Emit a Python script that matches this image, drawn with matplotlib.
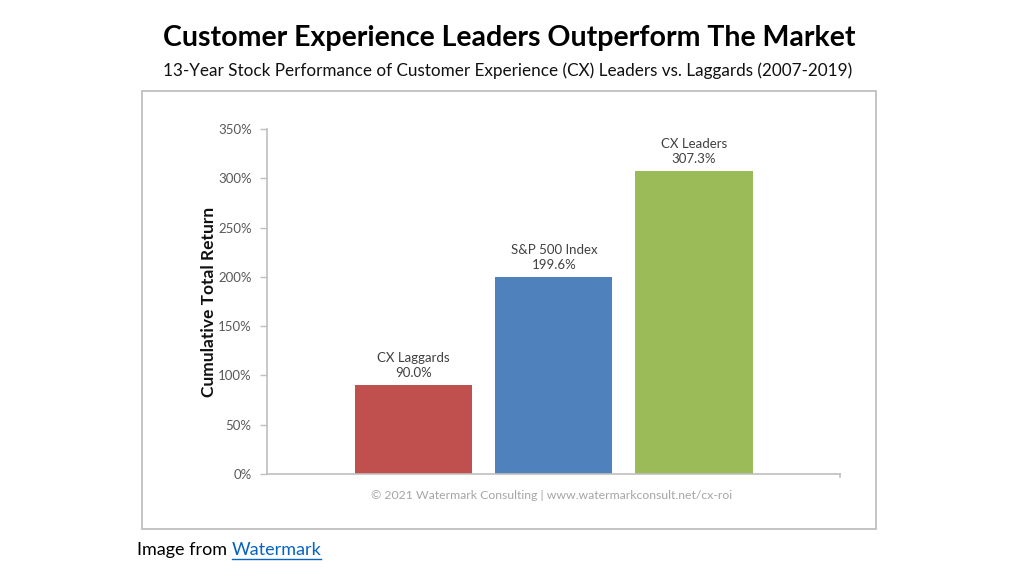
import matplotlib
matplotlib.use("Agg")
import matplotlib.pyplot as plt
from matplotlib.patches import Rectangle
from matplotlib.ticker import FuncFormatter

categories = ["CX Laggards", "S&P 500 Index", "CX Leaders"]
values = [90.0, 199.6, 307.3]
colors = ["#C0504D", "#4F81BD", "#9BBB59"]
yticks = [0, 50, 100, 150, 200, 250, 300, 350]

W, H = 1024, 577
fig = plt.figure(figsize=(W / 100, H / 100), dpi=100)
fig.patch.set_facecolor("white")
FONT = ["Lato", "DejaVu Sans"]

def px(x0, y0, x1, y1):
    return [x0 / W, 1 - y1 / H, (x1 - x0) / W, (y1 - y0) / H]

# outer chart box
box = Rectangle((142 / W, 1 - 529 / H), (876 - 142) / W, (529 - 91) / H,
                transform=fig.transFigure, fill=False, edgecolor="#BFBFBF", lw=1.3)
fig.add_artist(box)

ax = fig.add_axes(px(267, 129, 840, 474))
x = list(range(len(categories)))
ax.bar(x, values, width=0.836, color=colors, zorder=2)
ax.set_xlim(-1.045, 2 + 1.04)
ax.set_ylim(0, 350)
ax.set_yticks(yticks)
ax.yaxis.set_major_formatter(FuncFormatter(lambda v, p: f"{int(v)}%"))
ax.set_xticks([])
for s in ["top", "right"]:
    ax.spines[s].set_visible(False)
for s in ["left", "bottom"]:
    ax.spines[s].set_color("#BFBFBF")
    ax.spines[s].set_linewidth(1.2)
ax.tick_params(axis="y", colors="#BFBFBF", labelcolor="#595959", length=5,
               width=1.0, labelsize=9.5, pad=6)
for lab in ax.get_yticklabels():
    lab.set_family(FONT)
ax.set_ylabel("Cumulative Total Return", fontsize=12.5, fontweight="bold",
              family=FONT, color="#111111", labelpad=1)

for xi, v, c in zip(x, values, categories):
    ax.text(xi, v + 6, f"{c}\n{v:.1f}%", ha="center", va="bottom",
            fontsize=9.5, color="#404040", family=FONT, linespacing=1.35)

# small tick at right end of x-axis
ax.plot([1, 1], [0, -0.008], transform=ax.transAxes, color="#BFBFBF",
        lw=1.2, clip_on=False)

ax.text(0.497, -0.045, "© 2021 Watermark Consulting | www.watermarkconsult.net/cx-roi",
        transform=ax.transAxes, ha="center", va="top", fontsize=8.8,
        color="#A6A6A6", family=FONT)

fig.text(509 / W, 1 - 38 / H, "Customer Experience Leaders Outperform The Market",
         ha="center", va="center", fontsize=20.5, fontweight="bold",
         family=FONT, color="#000000")
fig.text(508 / W, 1 - 71 / H,
         "13-Year Stock Performance of Customer Experience (CX) Leaders vs. Laggards (2007-2019)",
         ha="center", va="center", fontsize=12.3, family=FONT, color="#111111")

t1 = fig.text(137 / W, 1 - 550 / H, "Image from ", ha="left", va="center",
              fontsize=13, family=FONT, color="#000000")
fig.canvas.draw()
bb = t1.get_window_extent()
fig.text(bb.x1 / W, 1 - 550 / H, "Watermark", ha="left", va="center",
         fontsize=13, family=FONT, color="#0563C1")
t2 = fig.texts[-1]
fig.canvas.draw()
bb2 = t2.get_window_extent()
fig.add_artist(plt.Line2D([bb2.x0 / W, bb2.x1 / W], [(bb2.y0 - 1) / H, (bb2.y0 - 1) / H],
                          transform=fig.transFigure, color="#0563C1", lw=1))

fig.savefig("out.png", dpi=100, facecolor="white")
